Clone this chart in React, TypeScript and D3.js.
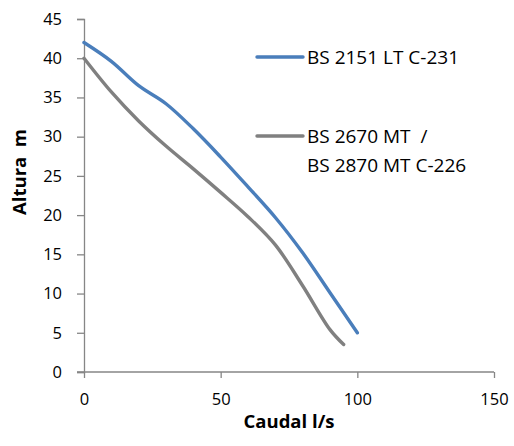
import React, { useEffect, useRef } from 'react';
import * as d3 from 'd3';

// Caudal (l/s) vs Altura (m) for both pumps
const caudalA = [0, 10, 20, 30, 40, 50, 60, 70, 80, 90, 100];
const alturaA = [42, 39.6, 36.5, 34.2, 31, 27.4, 23.6, 19.7, 15.2, 10.1, 5];
const caudalB = [0, 10, 20, 30, 40, 50, 60, 70, 80, 90, 95];
const alturaB = [40, 35.7, 32, 28.8, 25.9, 22.9, 19.8, 16.2, 11, 5.4, 3.5];

const xTicks = [0, 50, 100, 150];
const yTicks = [0, 5, 10, 15, 20, 25, 30, 35, 40, 45];

const seriesNames = ['BS 2151 LT C-231', ['BS 2670 MT  /', 'BS 2870 MT C-226']];
const colors = ['#4a7ebb', '#808080'];

const FONT = '"Open Sans", sans-serif';

const App: React.FC = () => {
  const svgRef = useRef<SVGSVGElement | null>(null);

  useEffect(() => {
    const svg = d3.select(svgRef.current);
    svg.selectAll('*').remove();

    const x = d3.scaleLinear().domain([0, 150]).range([84, 494]);
    const y = d3.scaleLinear().domain([0, 45]).range([372, 19]);

    const yAxis = svg
      .append('g')
      .attr('transform', `translate(${x(0)},0)`)
      .call(d3.axisLeft(y).tickValues(yTicks).tickSize(7).tickPadding(15));
    const xAxis = svg
      .append('g')
      .attr('transform', `translate(0,${y(0)})`)
      .call(d3.axisBottom(x).tickValues(xTicks).tickSize(6).tickPadding(15));

    [xAxis, yAxis].forEach(ax => {
      ax.select('.domain').attr('stroke', '#868686').attr('stroke-width', 1.3);
      ax.selectAll('.tick line').attr('stroke', '#868686').attr('stroke-width', 1.3);
      ax.selectAll('.tick text')
        .attr('fill', '#000')
        .style('font-family', FONT)
        .style('font-size', '16.5px');
    });
    // extend the x axis left to meet the y tick at 0
    xAxis.select('.domain').attr('d', `M77,0H${x(150)}`);

    const line = d3
      .line<[number, number]>()
      .x(d => x(d[0]))
      .y(d => y(d[1]))
      .curve(d3.curveCatmullRom.alpha(0.5));

    const series: [number, number][][] = [
      caudalA.map((c, i) => [c, alturaA[i]]),
      caudalB.map((c, i) => [c, alturaB[i]]),
    ];

    series.forEach((s, i) => {
      svg
        .append('path')
        .datum(s)
        .attr('fill', 'none')
        .attr('stroke', colors[i])
        .attr('stroke-width', 3.4)
        .attr('stroke-linecap', 'round')
        .attr('d', line);
    });

    // legend
    const legendY = [57, 136];
    seriesNames.forEach((name, i) => {
      const g = svg.append('g').attr('transform', `translate(257,${legendY[i]})`);
      g.append('line')
        .attr('x1', 0)
        .attr('x2', 46)
        .attr('stroke', colors[i])
        .attr('stroke-width', 3.4)
        .attr('stroke-linecap', 'round');
      const lines = Array.isArray(name) ? name : [name];
      lines.forEach((t, j) => {
        g.append('text')
          .attr('x', 50)
          .attr('y', 7 + j * 28.5)
          .style('font-family', FONT)
          .style('font-size', '19px')
          .style('white-space', 'pre')
          .attr('fill', '#000')
          .text(t);
      });
    });

    svg
      .append('text')
      .attr('x', (x(0) + x(150)) / 2)
      .attr('y', 428)
      .attr('text-anchor', 'middle')
      .style('font-family', FONT)
      .style('font-size', '18.5px')
      .style('font-weight', 'bold')
      .text('Caudal l/s');

    svg
      .append('text')
      .attr('transform', 'translate(26,172) rotate(-90)')
      .attr('text-anchor', 'middle')
      .style('font-family', FONT)
      .style('font-size', '18.5px')
      .style('font-weight', 'bold')
      .style('white-space', 'pre')
      .text('Altura  m');
  }, []);

  return (
    <svg
      ref={svgRef}
      width={514}
      height={446}
      style={{ position: 'absolute', left: 0, top: 0, background: '#fff' }}
    />
  );
};

export default App;
